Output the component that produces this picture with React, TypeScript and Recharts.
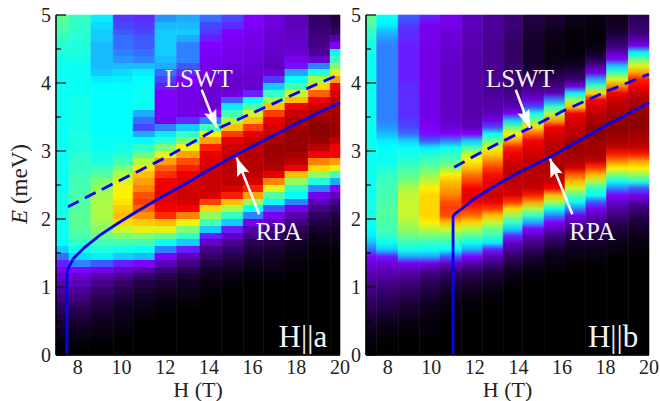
import React from 'react';
import {
  ComposedChart,
  Line,
  XAxis,
  YAxis,
  ReferenceArea,
  ReferenceLine,
  ReferenceDot,
  Label,
} from 'recharts';

const FONT = '"Liberation Serif", serif';
const xTicks = [8, 9, 10, 11, 12, 13, 14, 15, 16, 17, 18, 19, 20];
const yTicks = [0, 0.5, 1, 1.5, 2, 2.5, 3, 3.5, 4, 4.5, 5];

// column edges in H, one more than there are columns
const edgesA = [7, 7.6, 8.6, 9.62, 10.53, 11.53, 12.52, 13.59, 14.58, 15.57, 16.49, 17.48, 18.55, 19.55, 20];
const edgesB = [7, 7.49, 8.48, 9.45, 10.4, 11.4, 12.36, 13.3, 14.2, 15.18, 16.14, 17.1, 18.05, 19.05, 20];

// intensity per column, rows of 0.1 meV from E=5 downwards, rest is black
const colsA = [
  [55,54,52,50,49,48,47,47,46,46, 46,46,46,46,46,46,46,46,46,46, 46,46,46,46,46,46,47,47,47,47, 46,46,46,45,42,37,32,28,24,21, 18,15,12,10,8,6,4,2,1],
  [50,50,49,49,48,48,47,46,46,46, 46,46,47,47,47,47,47,48,48,48, 49,50,50,51,52,52,53,54,54,55, 55,54,52,50,47,43,38,30,24,21, 18,15,12,9,7,5,3,2,1],
  [44,43,42,42,41,41,41,41,42,44, 45,45,45,45,45,45,45,45,46,46, 47,48,51,54,58,60,61,62,62,62, 61,59,56,52,48,44,36,28,20,16, 13,10,8,6,5,3,2,1],
  [34,35,36,37,37,38,39,41,43,44, 45,45,45,45,45,45,45,45,46,47, 49,52,58,62,66,68,68,69,71,72, 70,64,58,52,47,42,32,24,17,12, 9,7,5,4,3,2,1],
  [33,34,35,36,36,37,38,41,44,45, 46,46,46,46,40,37,35,40,45,50, 56,63,69,72,74,76,79,80,78,75, 71,66,58,52,46,41,30,20,12,8, 6,4,3,2,1],
  [39,41,42,42,42,42,41,40,37,35, 32,30,29,29,29,28,38,44,49,58, 66,74,78,81,84,85,86,86,84,81, 72,66,56,46,38,30,22,14,9,6, 4,2,1,1],
  [40,41,42,40,38,38,38,36,33,30, 28,27,27,27,27,33,42,50,58,67, 74,79,82,85,87,88,89,88,84,76, 67,58,50,42,32,22,15,10,6,4, 3,2,1],
  [37,35,34,32,30,29,28,28,27,26, 25,25,25,25,30,38,52,68,74,82, 85,87,89,90,90,90,88,80,70,60, 52,42,32,24,16,12,8,5,3,2, 1],
  [35,33,30,29,28,27,27,26,25,24, 24,26,36,44,52,62,72,80,86,89, 91,92,92,92,92,88,82,72,62,50, 42,32,24,17,13,9,6,4,2,1],
  [30,29,28,27,27,26,26,25,25,24, 24,32,45,54,65,72,80,86,90,92, 93,93,93,92,88,82,74,60,46,38, 28,20,15,10,7,5,3,2,1],
  [26,26,25,25,24,24,23,22,25,34, 42,50,62,72,80,85,88,92,95,97, 97,96,93,86,76,66,54,46,36,28, 22,16,12,9,6,4,3,2,1],
  [22,22,23,23,24,25,28,31,40,46, 52,64,72,84,90,94,96,98,98,98, 96,92,84,72,60,50,45,38,28,20, 15,10,7,5,3,2,1,1],
  [12,13,14,15,16,18,24,38,48,62, 70,78,84,90,94,98,100,100,98,92, 84,76,70,60,48,38,28,22,16,11, 8,5,3,2,1,1],
  [7,9,12,20,30,45,52,58,66,74, 84,88,91,94,96,97,98,98,92,85, 84,74,66,52,40,30,22,16,12,8, 6,4,3,2,1],
];
const colsB = [
  [55,53,50,48,47,47,46,46,46,46, 46,46,46,46,46,46,46,46,46,46, 46,46,46,46,46,46,47,47,47,47, 46,45,44,41,37,30,26,23,20,17, 15,13,11,9,7,5,3,2,1],
  [45,44,41,39,38,38,38,38,38,38, 38,38,38,38,38,38,39,41,44,45, 46,46,48,50,51,52,52,53,54,54, 53,52,50,46,42,32,26,22,19,16, 13,11,9,7,5,3,2,1],
  [36,34,33,33,32,32,32,32,32,32, 33,33,33,33,33,34,35,37,42,46, 47,49,52,55,58,62,64,64,64,64, 62,60,56,51,47,40,28,22,17,14, 11,9,6,5,3,2,1],
  [32,28,28,28,27,27,27,27,27,27, 27,27,27,27,27,28,29,31,36,44, 48,52,56,60,64,68,70,70,70,70, 68,63,57,50,46,40,28,18,13,10, 8,6,4,3,2,1,1],
  [28,27,26,25,25,24,24,23,23,23, 23,23,23,23,23,24,25,30,38,46, 50,54,60,68,72,74,76,79,80,79, 72,64,57,50,45,36,24,15,10,7, 5,3,2,1,1],
  [22,22,21,21,21,20,20,20,20,20, 20,20,20,20,20,21,22,30,42,52, 64,68,72,77,80,84,86,85,81,77, 70,62,54,46,40,30,20,13,8,6, 4,2,1,1],
  [18,18,18,18,17,17,17,17,17,18, 18,18,19,20,22,27,35,46,56,66, 71,76,80,83,85,87,90,85,80,72, 64,56,51,44,32,22,15,9,6,4, 2,1,1],
  [14,14,13,13,12,12,12,13,13,14, 14,16,18,21,30,42,56,68,74,82, 85,88,91,92,92,90,88,80,70,60, 50,42,33,24,18,12,8,4,2,1],
  [8,7,6,6,5,5,5,6,8,12, 16,20,26,35,46,58,70,78,84,87, 89,91,93,93,92,90,82,74,62,50, 40,30,22,16,11,7,4,2,1],
  [6,5,3,3,2,2,2,4,7,11, 15,22,38,50,62,74,84,88,90,92, 93,95,95,92,90,84,72,62,46,38, 30,22,15,10,6,3,2,1],
  [3,2,1,1,1,1,2,5,9,14, 26,44,60,72,84,88,90,93,96,98, 96,94,88,78,72,64,54,46,38,28, 20,14,9,5,3,2,1],
  [2,1,1,1,2,4,9,18,27,40, 52,70,84,88,92,95,98,100,98,96, 96,90,80,72,62,50,46,36,28,22, 16,12,8,5,3,2,1],
  [4,4,6,10,14,22,30,42,52,66, 76,84,90,93,96,99,100,98,96,90, 82,76,68,58,46,38,30,24,19,15, 10,7,5,3,2,1],
  [10,12,14,20,28,44,56,66,74,82, 84,90,94,96,98,100,99,97,94,90, 82,74,68,60,48,36,28,20,14,10, 7,5,3,2,1],
];

// dispersion curves
const rpaA = [
  { h: 7.5, e: 0 }, { h: 7.5, e: 1.2 }, { h: 7.55, e: 1.27 }, { h: 7.8, e: 1.42 }, { h: 8.3, e: 1.58 },
  { h: 9, e: 1.76 }, { h: 9.8, e: 1.93 }, { h: 10.55, e: 2.08 }, { h: 11.6, e: 2.28 }, { h: 13, e: 2.53 },
  { h: 14, e: 2.72 }, { h: 15.27, e: 2.95 }, { h: 16.5, e: 3.15 }, { h: 18, e: 3.4 }, { h: 19, e: 3.56 }, { h: 20, e: 3.71 },
];
const lswtA = [
  { h: 7.55, e: 2.18 }, { h: 9, e: 2.42 }, { h: 10.5, e: 2.66 }, { h: 12, e: 2.9 }, { h: 14.2, e: 3.3 },
  { h: 16, e: 3.56 }, { h: 18, e: 3.85 }, { h: 20, e: 4.13 },
];
const rpaB = [
  { h: 11, e: 0 }, { h: 11, e: 2.04 }, { h: 11.1, e: 2.08 }, { h: 11.4, e: 2.15 }, { h: 11.9, e: 2.28 },
  { h: 13, e: 2.5 }, { h: 14, e: 2.68 }, { h: 15.45, e: 2.91 }, { h: 16.5, e: 3.1 }, { h: 18, e: 3.37 }, { h: 19, e: 3.54 }, { h: 20, e: 3.71 },
];
const lswtB = [
  { h: 11.05, e: 2.76 }, { h: 12, e: 2.93 }, { h: 13, e: 3.1 }, { h: 14.53, e: 3.34 },
  { h: 16, e: 3.58 }, { h: 18, e: 3.87 }, { h: 20, e: 4.13 },
];

// colour scale
const scaleV = [0, 30, 35, 40, 45, 50, 55, 62, 68, 72, 76, 80, 84, 90, 100];
const scaleRGB = [
  [0, 0, 0], [128, 0, 255], [70, 70, 255], [30, 170, 255], [0, 255, 255], [50, 255, 200], [90, 255, 150],
  [170, 250, 70], [255, 240, 0], [255, 190, 0], [255, 130, 0], [255, 60, 0], [245, 0, 0], [200, 0, 0], [140, 0, 0],
];

const colour = (v: number) => {
  let i = 0;
  while (i < scaleV.length - 2 && v > scaleV[i + 1]) i++;
  const t = (v - scaleV[i]) / (scaleV[i + 1] - scaleV[i]);
  const c = scaleRGB[i].map((a, k) => Math.round(a + (scaleRGB[i + 1][k] - a) * t));
  return `rgb(${c[0]},${c[1]},${c[2]})`;
};

const ROWS = 50;

const ColumnGradient = ({ id, values, smooth }: { id: string; values: number[]; smooth: boolean }) => {
  const stops: React.ReactNode[] = [];
  for (let i = 0; i < ROWS; i++) {
    const c = colour(values[i] ?? 0);
    if (smooth) {
      stops.push(<stop key={i} offset={(i + 0.5) / ROWS} stopColor={c} />);
    } else {
      stops.push(<stop key={i + 'a'} offset={i / ROWS} stopColor={c} />);
      stops.push(<stop key={i + 'b'} offset={(i + 1) / ROWS} stopColor={c} />);
    }
  }
  return (
    <linearGradient id={id} x1="0" y1="0" x2="0" y2="1">
      {stops}
    </linearGradient>
  );
};

const BottomTick = ({ x, y, payload }: any) =>
  payload.value % 2 === 0 ? (
    <text x={x} y={y + 19} textAnchor="middle" fontSize={20} fontFamily={FONT} fill="#222">
      {payload.value}
    </text>
  ) : (
    <g />
  );

const TopTick = ({ x, y, payload }: any) => (
  <line x1={x} x2={x} y1={y} y2={y + (payload.value % 2 === 0 ? 10 : 5)} stroke="#000" strokeWidth={1.2} />
);

const LeftTick = ({ x, y, payload }: any) => (
  <g>
    <line x1={x} x2={x + (payload.value % 1 === 0 ? 10 : 5)} y1={y} y2={y} stroke="#000" strokeWidth={1.2} />
    {payload.value % 1 === 0 && (
      <text x={x - 5} y={y + 7} textAnchor="end" fontSize={20} fontFamily={FONT} fill="#222">
        {payload.value}
      </text>
    )}
  </g>
);

const RightTick = ({ x, y, payload }: any) => (
  <line x1={x} x2={x - (payload.value % 1 === 0 ? 10 : 5)} y1={y} y2={y} stroke="#000" strokeWidth={1.2} />
);

const YTitle = () => (
  <text transform="translate(27,184) rotate(-90)" textAnchor="middle" fontSize={23} fontFamily={FONT} fill="#222">
    <tspan fontStyle="italic">E</tspan> (meV)
  </text>
);

const ArrowHead = ({ cx, cy, angle }: any) => (
  <polygon
    points="0,0 -6.5,-18 0,-15 6.5,-18"
    fill="#fff"
    transform={`translate(${cx},${cy}) rotate(${angle})`}
  />
);

const Arrow = (from: number[], to: number[], angle: number) => [
  <ReferenceLine
    key={'s' + to[0]}
    segment={[{ x: from[0], y: from[1] }, { x: to[0], y: to[1] }]}
    stroke="#fff"
    strokeWidth={2.5}
  />,
  <ReferenceDot key={'h' + to[0]} x={to[0]} y={to[1]} shape={<ArrowHead angle={angle} />} />,
];

const Tag = (text: string, x: number, y: number, size: number) => (
  <ReferenceDot
    key={text}
    x={x}
    y={y}
    r={0}
    fill="none"
    stroke="none"
    label={{ value: text, position: 'center', fill: '#f4f4f4', fontSize: size, fontFamily: FONT }}
  />
);

const Panel = ({ id, left, width, yWidth, right, edges, cols, smooth, rpa, lswt, title, spots, showTitle }: any) => (
  <div style={{ position: 'absolute', left, top: 0 }}>
    <ComposedChart
      width={width}
      height={401}
      margin={{ top: 15, right, bottom: 0, left: 0 }}
      style={{ overflow: 'visible' }}
    >
      <defs>
        {cols.map((c: number[], i: number) => (
          <ColumnGradient key={i} id={`${id}${i}`} values={c} smooth={smooth} />
        ))}
      </defs>
      <XAxis
        dataKey="h"
        type="number"
        domain={[7, 20]}
        ticks={xTicks}
        interval={0}
        height={46}
        tickSize={0}
        tickMargin={0}
        tick={<BottomTick />}
        axisLine={{ stroke: '#000', strokeWidth: 1.5 }}
        tickLine={false}
        label={{ value: 'H (T)', position: 'insideBottom', offset: 4, fontSize: 22, fontFamily: FONT, fill: '#222' }}
      />
      <XAxis
        xAxisId="top"
        orientation="top"
        dataKey="h"
        type="number"
        domain={[7, 20]}
        ticks={xTicks}
        interval={0}
        height={0}
        tickSize={0}
        tickMargin={0}
        tick={<TopTick />}
        axisLine={{ stroke: '#000', strokeWidth: 1.5 }}
        tickLine={false}
      />
      <YAxis
        type="number"
        domain={[0, 5]}
        ticks={yTicks}
        interval={0}
        width={yWidth}
        tickSize={0}
        tickMargin={0}
        tick={<LeftTick />}
        axisLine={{ stroke: '#000', strokeWidth: 1.5 }}
        tickLine={false}
      >
        {showTitle && <Label content={<YTitle />} />}
      </YAxis>
      <YAxis
        yAxisId="right"
        orientation="right"
        type="number"
        domain={[0, 5]}
        ticks={yTicks}
        interval={0}
        width={0}
        tickSize={0}
        tickMargin={0}
        tick={<RightTick />}
        axisLine={{ stroke: '#000', strokeWidth: 1.5 }}
        tickLine={false}
      />
      {cols.map((c: number[], i: number) => (
        <ReferenceArea
          key={i}
          x1={edges[i]}
          x2={edges[i + 1]}
          y1={0}
          y2={5}
          fill={`url(#${id}${i})`}
          fillOpacity={1}
          stroke={`url(#${id}${i})`}
          strokeWidth={0.6}
          strokeOpacity={1}
        />
      ))}
      <Line data={rpa} dataKey="e" stroke="#0404f0" strokeWidth={2.8} dot={false} isAnimationActive={false} />
      <Line
        data={lswt}
        dataKey="e"
        stroke="#0404f0"
        strokeWidth={2.8}
        strokeDasharray="12 7"
        dot={false}
        isAnimationActive={false}
      />
      {Arrow(spots.lswtFrom, spots.lswtTip, -21.5)}
      {Arrow(spots.rpaFrom, spots.rpaTip, 158.5)}
      {Tag('LSWT', spots.lswtText[0], spots.lswtText[1], 25)}
      {Tag('RPA', spots.rpaText[0], spots.rpaText[1], 25)}
      {Tag(title, spots.titleText[0], spots.titleText[1], 31)}
    </ComposedChart>
  </div>
);

const spotsA = {
  lswtFrom: [13.67, 3.9], lswtTip: [14.36, 3.34], rpaFrom: [16.3, 2.07], rpaTip: [15.27, 2.9],
  lswtText: [13.54, 4.07], rpaText: [17.2, 1.82], titleText: [18.3, 0.28],
};
const spotsB = {
  lswtFrom: [13.88, 3.9], lswtTip: [14.53, 3.34], rpaFrom: [16.48, 2.07], rpaTip: [15.45, 2.885],
  lswtText: [14.07, 4.07], rpaText: [17.4, 1.82], titleText: [18.35, 0.28],
};

export default function App() {
  return (
    <div style={{ position: 'absolute', left: 0, top: 0, width: 660, height: 401, background: '#fff' }}>
      <Panel id="a" left={0} width={360} yWidth={56} right={20} edges={edgesA} cols={colsA} smooth={false}
        rpa={rpaA} lswt={lswtA} title="H||a" spots={spotsA} showTitle />
      <Panel id="b" left={340} width={320} yWidth={26} right={11} edges={edgesB} cols={colsB} smooth
        rpa={rpaB} lswt={lswtB} title="H||b" spots={spotsB} showTitle={false} />
    </div>
  );
}
